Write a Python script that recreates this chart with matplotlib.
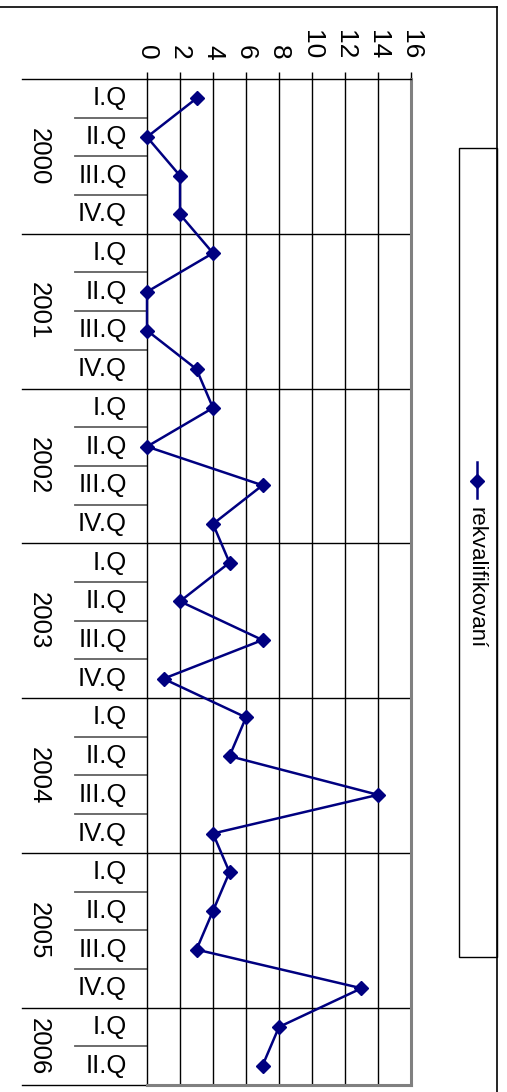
import matplotlib
matplotlib.use("Agg")
import matplotlib.pyplot as plt
from matplotlib.transforms import blended_transform_factory
from matplotlib.lines import Line2D
from matplotlib.patches import Rectangle

plt.rcParams['font.family'] = ['Liberation Sans', 'DejaVu Sans']

years = ["2000", "2001", "2002", "2003", "2004", "2005", "2006"]
quarters_per_year = [4, 4, 4, 4, 4, 4, 2]
quarter_names = ["I.Q", "II.Q", "III.Q", "IV.Q"]
values = [3, 0, 2, 2,
          4, 0, 0, 3,
          4, 0, 7, 4,
          5, 2, 7, 1,
          6, 5, 14, 4,
          5, 4, 3, 13,
          8, 7]
series_name = "rekvalifikovaní"
value_ticks = [0, 2, 4, 6, 8, 10, 12, 14, 16]

W, H = 507, 1092
fig = plt.figure(figsize=(W / 100, H / 100), dpi=100)

def fx(px):
    return px / W

def fy(py):
    return 1 - py / H

L, R, T, B = 147, 411, 79, 1085
ax = fig.add_axes([fx(L), fy(B), fx(R) - fx(L), fy(T) - fy(B)])

labels = []
for y, n in zip(years, quarters_per_year):
    labels += quarter_names[:n]
n_cat = len(labels)
pos = [i + 0.5 for i in range(n_cat)]

ax.set_xlim(value_ticks[0], value_ticks[-1])
ax.set_ylim(n_cat, 0)

# gridlines
for v in value_ticks[1:-1]:
    ax.axvline(v, color='black', lw=1.0, zorder=1)
bounds = []
acc = 0
for n in quarters_per_year:
    acc += n
    bounds.append(acc)
for b in bounds[:-1]:
    ax.axhline(b, color='black', lw=1.0, zorder=1)

ax.plot(values, pos, color='#000080', lw=1.8, marker='D', ms=7.5,
        markerfacecolor='#000080', markeredgecolor='#000080', zorder=3,
        clip_on=False)

# spines
for s in ['right', 'bottom']:
    ax.spines[s].set_color('#808080')
    ax.spines[s].set_linewidth(2.2)
for s in ['left', 'top']:
    ax.spines[s].set_color('black')
    ax.spines[s].set_linewidth(1.0)

ax.xaxis.tick_top()
ax.set_xticks(value_ticks)
ax.set_xticklabels([str(v) for v in value_ticks], rotation=-90,
                   fontsize=19, va='bottom', ha='center')
ax.tick_params(axis='x', direction='out', length=5, width=1.0,
               color='black', pad=9)
ax.set_yticks([])

tr = blended_transform_factory(ax.transAxes, ax.transData)
ax_px = R - L

def axx(px):
    return (px - L) / ax_px

# category labels
for p, lab in zip(pos, labels):
    ax.text(axx(127), p, lab, transform=tr, ha='right', va='center',
            fontsize=18.5, clip_on=False)

# separators
start = 0
all_bounds = [0] + bounds
for yi, n in enumerate(quarters_per_year):
    for k in range(1, n):
        ax.plot([axx(75), 0], [start + k, start + k], transform=tr,
                color='#606060', lw=1.3, clip_on=False)
    start += n
for b in all_bounds:
    ax.plot([axx(22), 0], [b, b], transform=tr, color='black', lw=1.0,
            clip_on=False)

# year labels
start = 0
for y, n in zip(years, quarters_per_year):
    ax.text(axx(39), start + n / 2, y, transform=tr, rotation=-90,
            ha='center', va='center', fontsize=18.5, clip_on=False)
    start += n

# outer frame
fig.add_artist(Line2D([0, fx(497)], [fy(7), fy(7)], color='black', lw=1.2))
fig.add_artist(Line2D([fx(497), fx(497)], [fy(7), 0], color='black', lw=1.2))

# legend
fig.add_artist(Rectangle((fx(459), fy(957)), fx(497) - fx(459),
                         fy(148) - fy(957), fill=False, edgecolor='black',
                         lw=1.0))
fig.add_artist(Line2D([fx(477), fx(477)], [fy(462), fy(498)],
                      color='#000080', lw=1.8))
fig.add_artist(Line2D([fx(477)], [fy(481)], color='#000080', marker='D',
                      ms=7.5, markerfacecolor='#000080',
                      markeredgecolor='#000080'))
fig.text(fx(476), fy(507), series_name, rotation=-90, ha='center',
         va='top', fontsize=16)

fig.savefig("out.png", dpi=100)
